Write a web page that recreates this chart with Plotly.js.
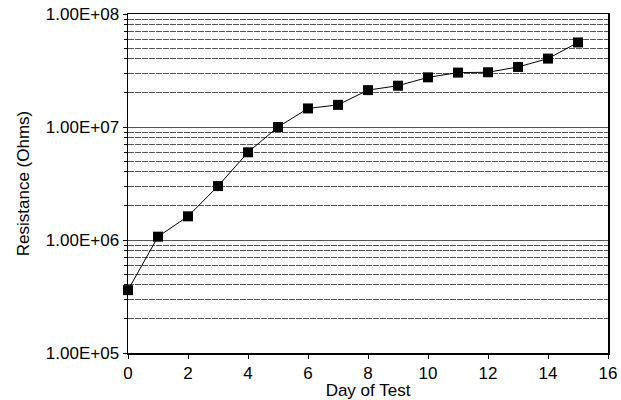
<!DOCTYPE html>
<html>
<head>
<meta charset="utf-8">
<script src="https://cdn.plot.ly/plotly-3.0.1.min.js"></script>
<style>html,body{margin:0;padding:0;background:#fff;}#chart{width:621px;height:400px;}</style>
</head>
<body>
<div id="chart"></div>
<script>
var days = [0,1,2,3,4,5,6,7,8,9,10,11,12,13,14,15];
var resistance = [3.6e5,1.07e6,1.62e6,3.0e6,5.97e6,1.0e7,1.46e7,1.57e7,2.12e7,2.32e7,2.75e7,3.03e7,3.05e7,3.4e7,4.03e7,5.6e7];
var yTickVals = [1e5,1e6,1e7,1e8];
var yTickText = ["1.00E+05","1.00E+06","1.00E+07","1.00E+08"];
var xTickVals = [0,2,4,6,8,10,12,14,16];

var trace = {
  x: days, y: resistance, type: 'scatter', mode: 'lines+markers',
  line: {color: '#000', width: 1},
  marker: {symbol: 'square', size: 10, color: '#000'},
  cliponaxis: false
};
var fam = 'Liberation Sans, Arial, sans-serif';
var layout = {
  width: 621, height: 400,
  margin: {l: 128, r: 13, t: 14, b: 47},
  paper_bgcolor: '#fff', plot_bgcolor: '#fff',
  showlegend: false,
  font: {family: fam, color: '#000', size: 17},
  xaxis: {
    range: [0, 16], tickvals: xTickVals, ticks: 'outside', ticklen: 4, tickcolor: '#000',
    showgrid: false, zeroline: false, showline: true, linecolor: '#000', linewidth: 1.5, mirror: true,
    tickfont: {family: fam, size: 17, color: '#000'},
    title: {text: 'Day of Test', font: {family: fam, size: 17, color: '#000'}, standoff: 2}
  },
  yaxis: {
    type: 'log', range: [5, 8], tickvals: yTickVals, ticktext: yTickText,
    ticks: 'outside', ticklen: 4, tickcolor: '#000',
    showgrid: true, gridcolor: '#555', gridwidth: 1,
    minor: {dtick: 'D1', showgrid: true, gridcolor: '#555', gridwidth: 1, griddash: '6px,1px', ticks: 'outside', ticklen: 3, tickcolor: '#000'},
    zeroline: false, showline: true, linecolor: '#000', linewidth: 1.5, mirror: true,
    tickfont: {family: fam, size: 17, color: '#000'},
    title: {text: 'Resistance (Ohms)', font: {family: fam, size: 17, color: '#000'}, standoff: 12}
  }
};
Plotly.newPlot('chart', [trace], layout, {displayModeBar: false, staticPlot: true});
</script>
</body>
</html>
